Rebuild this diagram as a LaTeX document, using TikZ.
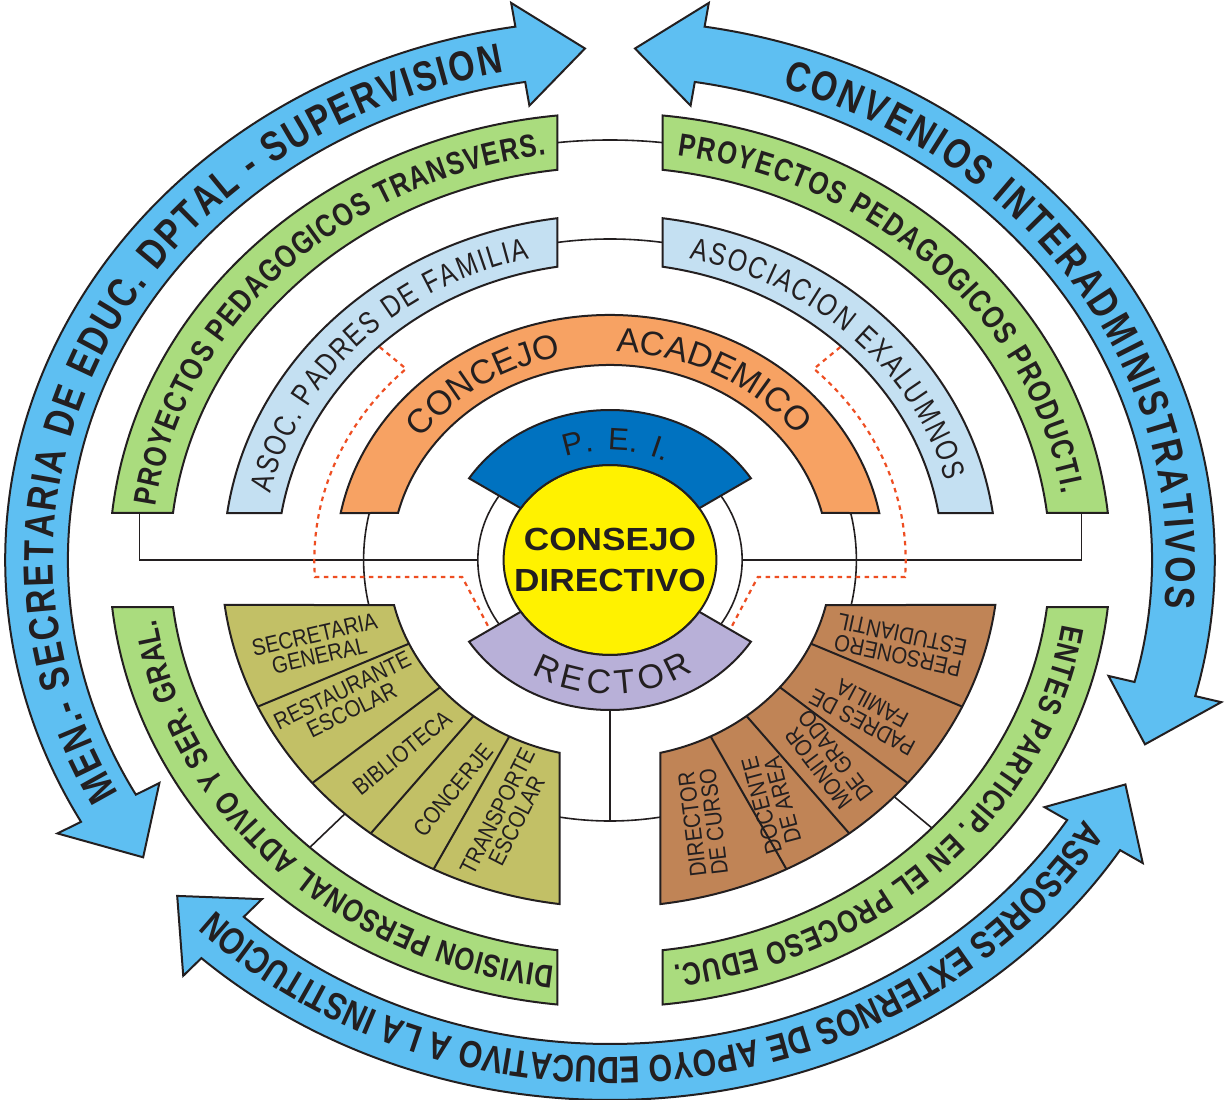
\documentclass[tikz,border=0pt]{standalone}
\usepackage{fontspec}
\setmainfont{Liberation Sans}
\newfontfamily\narrowfont[FakeStretch=0.8]{Liberation Sans}
\newfontfamily\cellfont[FakeStretch=0.86]{Liberation Sans}
\newfontfamily\widefont[FakeStretch=1.1]{Liberation Sans}
\usetikzlibrary{decorations.text}
\definecolor{ink}{RGB}{35,31,32}
\definecolor{skyblue}{RGB}{94,191,242}
\definecolor{leafgreen}{RGB}{170,220,126}
\definecolor{paleblue}{RGB}{196,224,242}
\definecolor{peach}{RGB}{247,162,99}
\definecolor{peiblue}{RGB}{0,114,192}
\definecolor{lavender}{RGB}{184,176,216}
\definecolor{oliveband}{RGB}{194,192,102}
\definecolor{clay}{RGB}{192,132,86}
\definecolor{dotred}{RGB}{238,78,34}

\begin{document}
\begin{tikzpicture}[x=1.12pt,y=1pt,
  band/.style={draw=ink,line width=2pt},
  link/.style={draw=ink,line width=1.6pt},
  dots/.style={draw=dotred,line width=2.2pt,dash pattern=on 4.5pt off 4.5pt},
  cell/.style={font=\cellfont\fontsize{23.5}{21.5}\selectfont,text=ink,align=center,inner sep=0pt},
  arctext/.style={decorate,decoration={text along path,text color=ink,text align=fit to path,text={#1}}}]
\useasboundingbox (-544.64,-539) rectangle (549.1,560);

% thin links
\draw[link] (0,0) circle[radius=118];
\draw[link] (-118,0) -- (-420,0) -- (-420,60);
\draw[link] (118,0) -- (421,0) -- (421,60);
\draw[link] (165:220) arc[start angle=165,end angle=195,radius=220];
\draw[link] (15:220) arc[start angle=15,end angle=-15,radius=220];
\draw[link] (80:420) arc[start angle=80,end angle=100,radius=420];
\draw[link] (80:321) arc[start angle=80,end angle=100,radius=321];
\draw[link] (250:261) arc[start angle=250,end angle=290,radius=261];
\draw[link] (0,-140) -- (0,-261);
\draw[link] (227:340) -- (227:400);
\draw[link] (-43:340) -- (-43:400);
\draw[dots] (134:296) -- (133.6:264) arc[start angle=133.6,end angle=183.7,radius=264] -- (-132,-17) -- (213.5:128);
\draw[dots] (46:296) -- (46.4:264) arc[start angle=46.4,end angle=-3.7,radius=264] -- (132,-17) -- (-33.5:128);

% centre
\draw[band,fill=yellow] (0,0) circle[radius=95];
\draw[band,fill=peiblue] (147:150) arc[start angle=147,end angle=33,radius=150] -- (33:95) arc[start angle=33,end angle=147,radius=95] -- cycle;
\draw[band,fill=lavender] (213:150) arc[start angle=213,end angle=327,radius=150] -- (327:95) arc[start angle=327,end angle=213,radius=95] -- cycle;

% rings
\draw[band,fill=peach] (168.94:245) arc[start angle=168.94,end angle=11.06,radius=245] -- (13.95:195) arc[start angle=13.95,end angle=166.05,radius=195] -- cycle;
\draw[band,fill=paleblue] (172.17:345) arc[start angle=172.17,end angle=97.83,radius=345] -- (99.1:297) arc[start angle=99.1,end angle=170.9,radius=297] -- cycle;
\draw[band,fill=paleblue] (82.17:345) arc[start angle=82.17,end angle=7.83,radius=345] -- (9.1:297) arc[start angle=9.1,end angle=80.9,radius=297] -- cycle;
\draw[band,fill=leafgreen] (173.96:447) arc[start angle=173.96,end angle=96.04,radius=447] -- (96.87:393) arc[start angle=96.87,end angle=173.13,radius=393] -- cycle;
\draw[band,fill=leafgreen] (83.96:447) arc[start angle=83.96,end angle=6.04,radius=447] -- (6.87:393) arc[start angle=6.87,end angle=83.13,radius=393] -- cycle;
\draw[band,fill=leafgreen] (186.04:447) arc[start angle=186.04,end angle=263.96,radius=447] -- (263.13:393) arc[start angle=263.13,end angle=186.87,radius=393] -- cycle;
\draw[band,fill=leafgreen] (276.04:447) arc[start angle=276.04,end angle=353.96,radius=447] -- (353.13:393) arc[start angle=353.13,end angle=276.87,radius=393] -- cycle;

% lower sectors
\draw[band,fill=oliveband] (187.45:347) arc[start angle=187.45,end angle=262.55,radius=347] -- (256.86:198) arc[start angle=256.86,end angle=193.14,radius=198] -- cycle;
\draw[band,fill=clay] (277.45:347) arc[start angle=277.45,end angle=352.55,radius=347] -- (346.86:198) arc[start angle=346.86,end angle=283.14,radius=198] -- cycle;
\foreach \a in {205,220,232,243} {
  \draw[band] (\a:198) -- (\a:347);
  \draw[band] ({180-\a}:198) -- ({180-\a}:347);
}

% arrows
\draw[band,fill=skyblue] (209:540) arc[start angle=209,end angle=99,radius=540] -- (99:564) -- (92.5:512) -- (99:460) -- (99:484) arc[start angle=99,end angle=209,radius=484] -- (209:460) -- (215.5:512) -- (209:564) -- cycle;
\draw[band,fill=skyblue] (81:540) arc[start angle=81,end angle=-14.6,radius=540] -- (-14.6:564) -- (-21.1:512) -- (-14.6:460) -- (-14.6:484) arc[start angle=-14.6,end angle=81,radius=484] -- (81:460) -- (87.5:512) -- (81:564) -- cycle;
\draw[band,fill=skyblue] (-32.5:540) arc[start angle=-32.5,end angle=-132.5,radius=540] -- (-132.5:564) -- (-139:512) -- (-132.5:460) -- (-132.5:484) arc[start angle=-132.5,end angle=-32.5,radius=484] -- (-32.5:460) -- (-26:512) -- (-32.5:564) -- cycle;

% curved labels
\path[arctext={|\narrowfont\bfseries\fontsize{42}{42}\selectfont|MEN.- SECRETARIA DE EDUC. DPTAL - SUPERVISION}] (208:497) arc[start angle=208,end angle=101,radius=497];
\path[arctext={|\narrowfont\bfseries\fontsize{42}{42}\selectfont|CONVENIOS INTERADMINISTRATIVOS}] (72:497) arc[start angle=72,end angle=-5.5,radius=497];
\path[arctext={|\narrowfont\bfseries\fontsize{38}{38}\selectfont|ASESORES EXTERNOS DE APOYO EDUCATIVO A LA INSTITUCION}] (-31.5:497) arc[start angle=-31.5,end angle=-134.2,radius=497];
\path[arctext={|\narrowfont\bfseries\fontsize{32}{32}\selectfont|PROYECTOS PEDAGOGICOS TRANSVERS.}] (172.5:409) arc[start angle=172.5,end angle=98,radius=409];
\path[arctext={|\narrowfont\bfseries\fontsize{32}{32}\selectfont|PROYECTOS PEDAGOGICOS PRODUCTI.}] (81.5:409) arc[start angle=81.5,end angle=9.3,radius=409];
\path[arctext={|\narrowfont\bfseries\fontsize{32}{32}\selectfont|DIVISION PERSONAL ADTIVO Y SER. GRAL.}] (263:409) arc[start angle=263,end angle=188.4,radius=409];
\path[arctext={|\narrowfont\bfseries\fontsize{32}{32}\selectfont|ENTES PARTICIP. EN EL PROCESO EDUC.}] (-9:409) arc[start angle=-9,end angle=-82,radius=409];
\path[arctext={|\narrowfont\fontsize{31}{31}\selectfont|ASOC. PADRES DE FAMILIA}] (167.6:310) arc[start angle=167.6,end angle=103.4,radius=310];
\path[arctext={|\narrowfont\fontsize{31}{31}\selectfont|ASOCIACION EXALUMNOS}] (76.7:310) arc[start angle=76.7,end angle=14.7,radius=310];
\path[decorate,decoration={text along path,text color=ink,text align=fit to path stretching spaces,
  text={|\fontsize{34}{34}\selectfont|CONCEJO ACADEMICO}}] (144.3:208) arc[start angle=144.3,end angle=36.5,radius=208];
\path[decorate,decoration={text along path,text color=ink,text align=fit to path stretching spaces,
  text={|\fontsize{31}{31}\selectfont|P. E. I.}}] (111:110) arc[start angle=111,end angle=63,radius=110];
\path[arctext={|\fontsize{34}{34}\selectfont|RECTOR}] (238.6:134) arc[start angle=238.6,end angle=303.6,radius=134];

% boxes
\node[font=\widefont\bfseries\fontsize{32}{41}\selectfont,text=ink,align=center] (consejo) at (0,0) {CONSEJO\\DIRECTIVO};
\node[cell,rotate=13] (secretaria) at (-261.6,-85) {SECRETARIA\\GENERAL};
\node[cell,rotate=26] (restaurante) at (-234.8,-140) {RESTAURANTE\\ESCOLAR};
\node[cell,rotate=39] (biblioteca) at (-185.7,-193) {BIBLIOTECA};
\node[cell,rotate=51] (concerje) at (-140.2,-230) {CONCERJE};
\node[cell,rotate=63] (transporte) at (-92,-256) {TRANSPORTE\\ESCOLAR};
\node[cell,rotate=168] (personero) at (258.9,-85) {PERSONERO\\ESTUDIANTIL};
\node[cell,rotate=152] (padres) at (229.5,-153) {PADRES DE\\FAMILIA};
\node[cell,rotate=127] (monitor) at (193.75,-202) {MONITOR\\DE GRADO};
\node[cell,rotate=105] (docente) at (144.6,-243) {DOCENTE\\DE AREA};
\node[cell,rotate=97] (director) at (83,-263) {DIRECTOR\\DE CURSO};
\end{tikzpicture}
\end{document}
